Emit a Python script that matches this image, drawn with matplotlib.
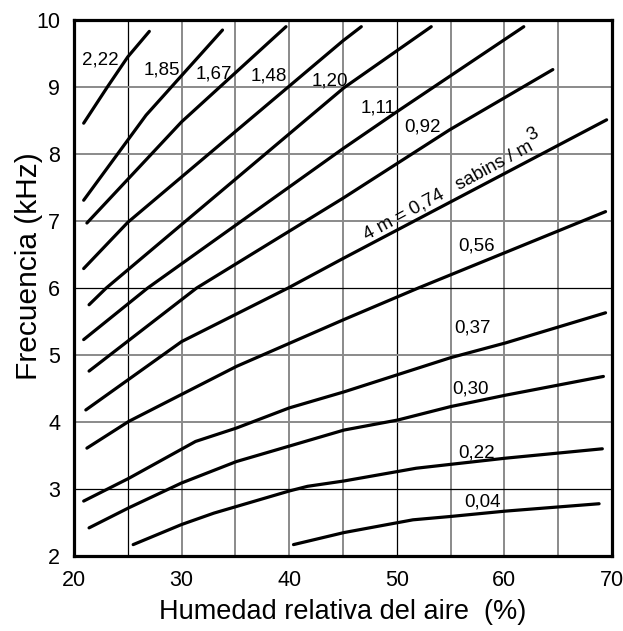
import matplotlib
matplotlib.use("Agg")
import matplotlib.pyplot as plt

# Air absorption curves: frequency vs relative humidity, one curve per 4m value
labels = ["2,22", "1,85", "1,67", "1,48", "1,20", "1,11", "0,92",
          "0,74", "0,56", "0,37", "0,30", "0,22", "0,04"]

hum_222 = [20.9, 23.1, 25.0, 27.0]
frq_222 = [8.46, 9.0, 9.45, 9.83]
hum_185 = [20.9, 26.7, 33.8]
frq_185 = [7.31, 8.58, 9.85]
hum_167 = [21.2, 30.0, 39.7]
frq_167 = [6.97, 8.48, 9.90]
hum_148 = [20.9, 25.0, 45.0, 46.7]
frq_148 = [6.29, 6.98, 9.69, 9.90]
hum_120 = [21.4, 23.0, 45.1, 53.2]
frq_120 = [5.75, 6.0, 8.99, 9.90]
hum_111 = [20.9, 26.85, 45.0, 50.0, 61.8]
frq_111 = [5.23, 6.0, 8.08, 8.63, 9.90]
hum_092 = [21.4, 31.4, 45.0, 54.9, 64.5]
frq_092 = [4.76, 6.0, 7.34, 8.36, 9.26]
hum_074 = [21.1, 30.0, 39.9, 45.0, 69.5]
frq_074 = [4.18, 5.20, 6.0, 6.44, 8.51]
hum_056 = [21.2, 25.1, 35.1, 45.1, 52.0, 69.4]
frq_056 = [3.61, 4.01, 4.83, 5.53, 6.0, 7.14]
hum_037 = [20.9, 25.1, 31.3, 35.1, 40.0, 45.1, 55.0, 60.1, 69.4]
frq_037 = [2.82, 3.16, 3.71, 3.91, 4.21, 4.45, 4.96, 5.18, 5.63]
hum_030 = [21.4, 25.1, 30.0, 35.1, 40.0, 45.1, 50.1, 55.0, 60.1, 69.2]
frq_030 = [2.42, 2.72, 3.09, 3.41, 3.64, 3.88, 4.03, 4.23, 4.40, 4.68]
hum_022 = [25.5, 30.0, 33.0, 40.0, 41.7, 45.1, 51.8, 60.1, 69.1]
frq_022 = [2.17, 2.47, 2.64, 2.97, 3.04, 3.12, 3.31, 3.46, 3.60]
hum_004 = [40.4, 45.1, 51.5, 55.0, 60.1, 68.8]
frq_004 = [2.17, 2.35, 2.54, 2.59, 2.67, 2.78]

curves = [(hum_222, frq_222), (hum_185, frq_185), (hum_167, frq_167),
          (hum_148, frq_148), (hum_120, frq_120), (hum_111, frq_111),
          (hum_092, frq_092), (hum_074, frq_074), (hum_056, frq_056),
          (hum_037, frq_037), (hum_030, frq_030), (hum_022, frq_022),
          (hum_004, frq_004)]

x_ticks = [20, 30, 40, 50, 60, 70]
y_ticks = [2, 3, 4, 5, 6, 7, 8, 9, 10]

# where each curve name is written (None = rotated label on the 0,74 curve)
label_pos = [(22.4, 9.40), (28.2, 9.25), (33.0, 9.19), (38.1, 9.16),
             (43.8, 9.09), (48.3, 8.69), (52.4, 8.40), None,
             (57.45, 6.62), (57.0, 5.40), (56.85, 4.49), (57.45, 3.54),
             (58.0, 2.80)]

plt.rcParams["font.family"] = ["Liberation Sans", "DejaVu Sans"]

fig = plt.figure(figsize=(6.23, 6.31), dpi=100)
ax = fig.add_axes([74 / 623, 1 - 556 / 631, 538 / 623, 536 / 631])

# grid: every 5 % and every 1 kHz, a few lines drawn darker
for gx in range(25, 70, 5):
    ax.axvline(gx, color="black" if gx in (25, 50) else "#8a8a8a",
               lw=0.9 if gx in (25, 50) else 1.4, zorder=1)
for gy in range(3, 10):
    ax.axhline(gy, color="black" if gy in (3, 6) else "#8a8a8a",
               lw=0.9 if gy in (3, 6) else 1.4, zorder=1)

for (hx, fy) in curves:
    ax.plot(hx, fy, color="black", lw=2.3, solid_capstyle="round", zorder=3)

for lab, pos in zip(labels, label_pos):
    if pos is None:
        continue
    ax.text(pos[0], pos[1], lab, fontsize=13.5, ha="center", va="center", zorder=4)

# label written along the 0,74 curve, with the cube raised after "m"
ax.text(47.2, 6.72, "4 m = 0,74   sabins / m", fontsize=13.5, rotation=28.5,
        rotation_mode="anchor", ha="left", va="baseline", zorder=4)
ax.text(62.4, 8.20, "3", fontsize=13.5, rotation=28.5,
        rotation_mode="anchor", ha="left", va="baseline", zorder=4)

ax.set_xlim(20, 70)
ax.set_ylim(2, 10)
ax.set_xticks(x_ticks)
ax.set_yticks(y_ticks)
ax.tick_params(length=0, labelsize=15.5)
ax.tick_params(axis="x", pad=10)
ax.tick_params(axis="y", pad=10)
for sp in ax.spines.values():
    sp.set_linewidth(2.3)

ax.set_xlabel("Humedad relativa del aire  (%)", fontsize=19.5)
ax.set_ylabel("Frecuencia (kHz)", fontsize=21.5)
ax.xaxis.set_label_coords(0.5, -0.08)
ax.yaxis.set_label_coords(-0.058, 0.54)

fig.savefig("out.png", dpi=100)
